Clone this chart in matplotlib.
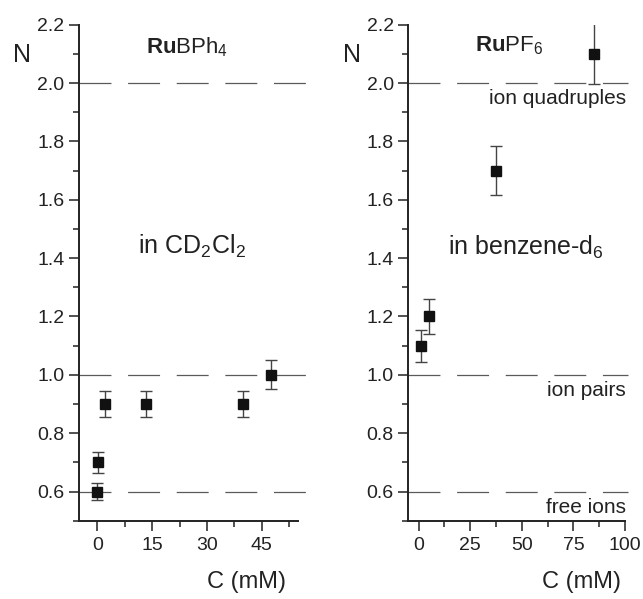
import matplotlib
matplotlib.use("Agg")
import matplotlib.pyplot as plt
from matplotlib.ticker import MultipleLocator, FormatStrFormatter

plt.rcParams["font.family"] = ["Liberation Sans", "DejaVu Sans"]
plt.rcParams["mathtext.fontset"] = "custom"
plt.rcParams["mathtext.rm"] = "Liberation Sans"
plt.rcParams["mathtext.bf"] = "Liberation Sans:bold"
plt.rcParams["mathtext.it"] = "Liberation Sans:italic"
plt.rcParams["lines.scale_dashes"] = False

# RuBPh4 in CD2Cl2
bph_conc = [0.0, 0.3, 2.0, 13.2, 40.0, 47.5]
bph_n = [0.60, 0.70, 0.90, 0.90, 0.90, 1.00]
bph_err = [0.030, 0.035, 0.045, 0.045, 0.045, 0.050]

# RuPF6 in benzene-d6
pf6_conc = [1.3, 4.9, 37.7, 85.0]
pf6_n = [1.10, 1.20, 1.70, 2.10]
pf6_err = [0.055, 0.060, 0.085, 0.105]

ref_levels = [2.0, 1.0, 0.6]
ref_labels = ["ion quadruples", "ion pairs", "free ions"]

DASH = (0, (23, 12))
LINE_COLOR = "#5a5a5a"
TEXT_COLOR = "#222222"


def style_axis(ax, xlim, major, minor):
    ax.set_xlim(*xlim)
    ax.set_ylim(0.5, 2.2)
    ax.xaxis.set_major_locator(MultipleLocator(major))
    ax.xaxis.set_minor_locator(MultipleLocator(minor))
    ax.yaxis.set_major_locator(MultipleLocator(0.2))
    ax.yaxis.set_minor_locator(MultipleLocator(0.1))
    ax.yaxis.set_major_formatter(FormatStrFormatter("%.1f"))
    for side in ("top", "right"):
        ax.spines[side].set_visible(False)
    for side in ("left", "bottom"):
        ax.spines[side].set_linewidth(1.4)
        ax.spines[side].set_color(TEXT_COLOR)
    ax.tick_params(which="major", length=7, width=1.1, labelsize=14,
                   colors=TEXT_COLOR, direction="out")
    ax.tick_params(which="minor", length=4, width=1.1, colors=TEXT_COLOR,
                   direction="out")
    ax.tick_params(axis="y", which="major", pad=3.5)
    ax.tick_params(axis="x", which="major", pad=5)


def draw_levels(ax, x0, x1):
    for level in ref_levels:
        ax.plot([x0, x1], [level, level], linestyle=DASH, color=LINE_COLOR,
                linewidth=0.9, clip_on=False, zorder=1)


def draw_points(ax, x, y, err):
    ax.errorbar(x, y, yerr=err, fmt="s", color="#111111", markersize=6.8,
                ecolor="#444444", elinewidth=1.0, capsize=4, capthick=1.0,
                zorder=3)


fig = plt.figure(figsize=(6.43, 5.99), dpi=100)
ax_left = fig.add_axes([0.1229, 0.1307, 0.3410, 0.8281])
ax_right = fig.add_axes([0.6350, 0.1307, 0.3370, 0.8281])

style_axis(ax_left, (-5, 55), 15, 7.5)
draw_levels(ax_left, -5, 57.2)
draw_points(ax_left, bph_conc, bph_n, bph_err)

style_axis(ax_right, (-5, 100), 25, 12.5)
draw_levels(ax_right, -5, 101.5)
draw_points(ax_right, pf6_conc, pf6_n, pf6_err)
label_y = [1.928, 0.927, 0.528]
for text, y in zip(ref_labels, label_y):
    ax_right.text(100.5, y, text, ha="right", va="baseline", fontsize=15,
                  color=TEXT_COLOR)

# axis labels
for xf in (0.034, 0.547):
    fig.text(xf, 0.908, "N", ha="center", va="center", fontsize=18,
             color=TEXT_COLOR)
fig.text(0.384, 0.028, "C (mM)", ha="center", va="center", fontsize=17,
         color=TEXT_COLOR)
fig.text(0.904, 0.028, "C (mM)", ha="center", va="center", fontsize=17,
         color=TEXT_COLOR)

# panel titles and solvents
fig.text(0.291, 0.911, r"$\mathbf{Ru}\mathrm{BPh}_4$", ha="center",
         va="baseline", fontsize=16, color=TEXT_COLOR)
fig.text(0.792, 0.914, r"$\mathbf{Ru}\mathrm{PF}_6$", ha="center",
         va="baseline", fontsize=16, color=TEXT_COLOR)
fig.text(0.298, 0.577, r"in CD$_2$Cl$_2$", ha="center", va="baseline",
         fontsize=18, color=TEXT_COLOR)
fig.text(0.818, 0.574, r"in benzene-d$_6$", ha="center", va="baseline",
         fontsize=18, color=TEXT_COLOR)

fig.savefig("out.png", dpi=100)
